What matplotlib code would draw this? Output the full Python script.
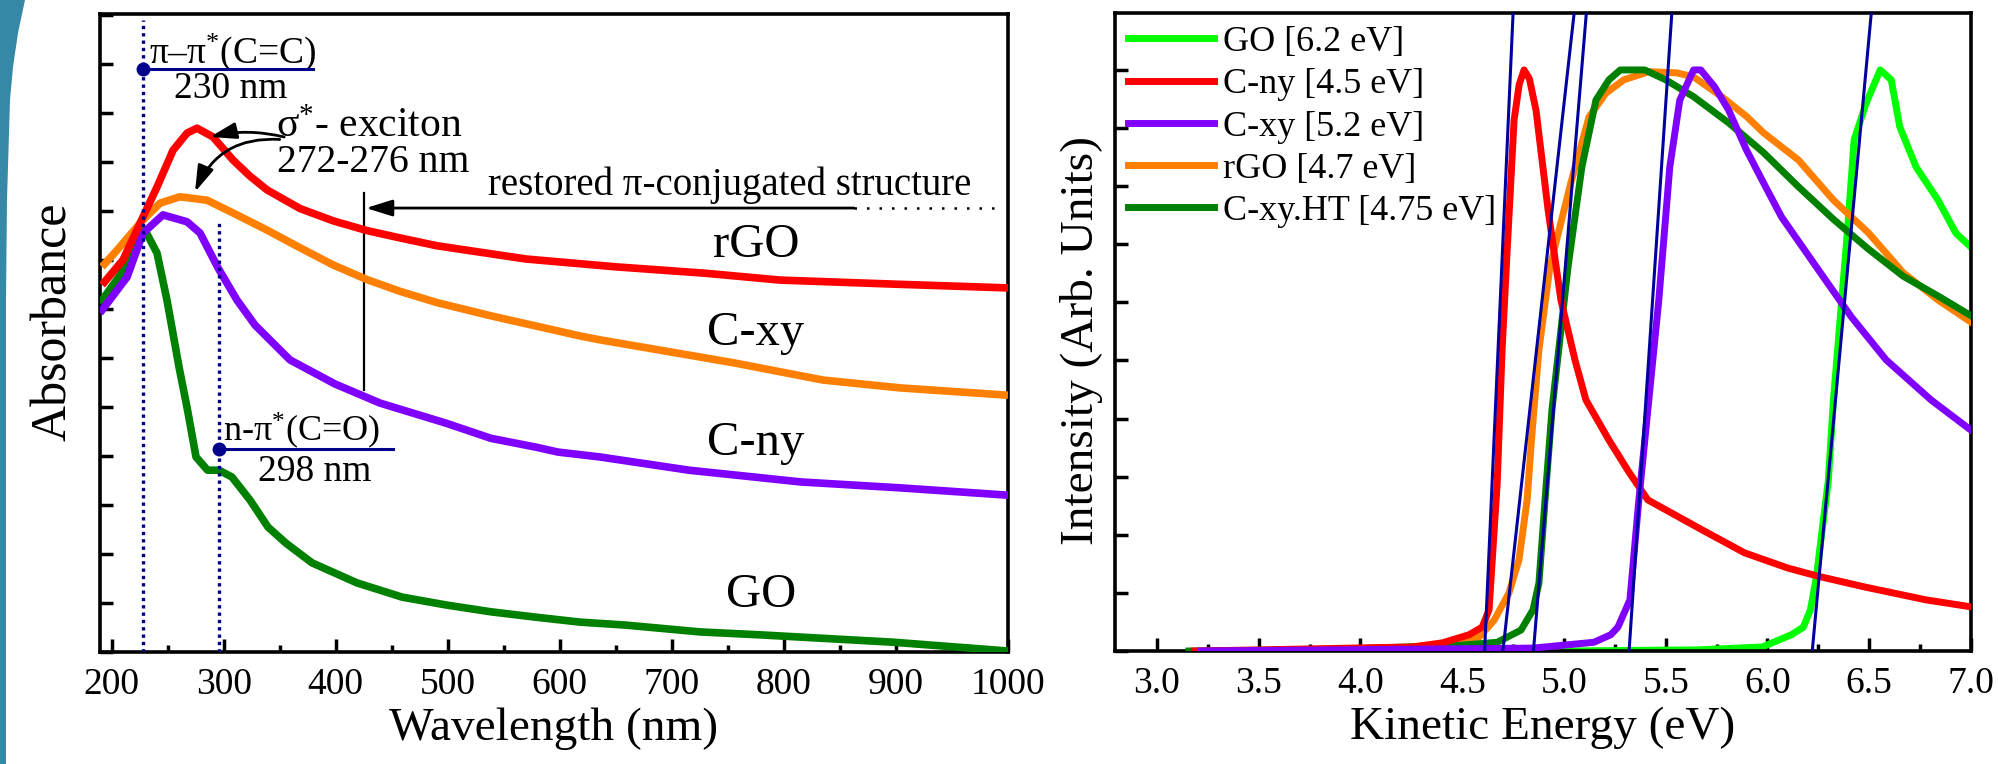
import numpy as np
import matplotlib
matplotlib.use('Agg')
import matplotlib.pyplot as plt
from matplotlib.patches import Polygon
from matplotlib.ticker import MultipleLocator, FormatStrFormatter

plt.rcParams['font.family'] = ['Liberation Serif', 'DejaVu Serif']
plt.rcParams['mathtext.fontset'] = 'custom'
plt.rcParams['mathtext.rm'] = 'Liberation Serif'
plt.rcParams['mathtext.it'] = 'Liberation Serif:italic'
plt.rcParams['mathtext.bf'] = 'Liberation Serif:bold'

# ---------------- Left panel: UV-Vis absorbance ----------------
red_wl = [191.4, 210.1, 228.0, 240.5, 254.8, 267.3, 276.2, 290.5, 308.3, 323.0, 338.7, 368.1,
          397.6, 427.9, 457.4, 490.4, 569.8, 650.2, 729.6, 796.5, 894.7, 1000]
red_abs = [7.49, 8.00, 8.88, 9.49, 10.24, 10.59, 10.69, 10.51, 10.04, 9.72, 9.43, 9.05,
           8.80, 8.60, 8.45, 8.29, 8.02, 7.86, 7.73, 7.59, 7.51, 7.43]

orange_wl = [191.4, 204.8, 228.0, 243.2, 261.0, 285.1, 308.3, 338.7, 368.1, 397.6, 427.9,
             457.4, 490.4, 538.6, 618.0, 635.9, 725.1, 755.5, 834.9, 903.6, 1000]
orange_abs = [7.86, 8.20, 8.82, 9.16, 9.29, 9.22, 8.96, 8.61, 8.25, 7.90, 7.60,
              7.36, 7.13, 6.86, 6.45, 6.37, 6.02, 5.90, 5.55, 5.39, 5.24]

purple_wl = [189.6, 213.7, 228.0, 245.8, 267.3, 278.9, 294.9, 311.9, 328.0, 359.2, 399.3,
             439.5, 498.4, 538.6, 578.8, 598.4, 635.9, 715.3, 815.3, 903.6, 1000]
purple_abs = [6.92, 7.65, 8.55, 8.92, 8.78, 8.55, 7.84, 7.18, 6.67, 5.96, 5.47,
              5.08, 4.67, 4.36, 4.18, 4.08, 3.98, 3.71, 3.47, 3.35, 3.20]

green_wl = [189.6, 207.5, 220.8, 229.8, 240.5, 249.4, 260.1, 267.7, 275.3, 285.6, 295.8,
            307.4, 323.5, 339.5, 355.6, 378.8, 419.0, 459.2, 498.4, 538.6, 578.8, 618.0,
            658.2, 725.1, 778.7, 897.4, 1000]
green_abs = [7.12, 7.69, 8.31, 8.61, 8.14, 7.18, 5.82, 4.94, 3.98, 3.71, 3.71,
             3.57, 3.10, 2.55, 2.22, 1.82, 1.41, 1.12, 0.96, 0.82, 0.71, 0.61,
             0.55, 0.41, 0.35, 0.20, 0.02]

uv_labels = ['rGO', 'C-xy', 'C-ny', 'GO']
uv_label_pos = [(775, 8.31), (775, 6.51), (775, 4.27), (780, 1.16)]

pi_pi_wl = 228
n_pi_wl = 296

# ---------------- Right panel: UPS secondary cutoff ----------------
ups_names = ['GO [6.2 eV]', 'C-ny [4.5 eV]', 'C-xy [5.2 eV]', 'rGO [4.7 eV]', 'C-xy.HT [4.75 eV]']

go_E = [5.0, 5.662, 5.975, 6.118, 6.176, 6.211, 6.240, 6.299, 6.324, 6.392, 6.426, 6.485,
        6.554, 6.608, 6.650, 6.730, 6.838, 6.926, 7.0]
go_I = [0.0, 0.002, 0.007, 0.028, 0.041, 0.071, 0.127, 0.294, 0.432, 0.719, 0.880, 0.943,
        1.0, 0.983, 0.902, 0.833, 0.776, 0.719, 0.695]

cny_E = [3.186, 3.515, 3.961, 4.255, 4.402, 4.534, 4.598, 4.632, 4.672, 4.696, 4.721, 4.755,
         4.780, 4.804, 4.830, 4.863, 4.922, 4.985, 5.054, 5.108, 5.221, 5.319, 5.412, 5.681,
         5.887, 6.098, 6.245, 6.480, 6.779, 7.0]
cny_I = [0.0, 0.002, 0.005, 0.007, 0.014, 0.028, 0.041, 0.071, 0.289, 0.518, 0.690, 0.914,
         0.975, 1.0, 0.985, 0.930, 0.759, 0.604, 0.501, 0.432, 0.363, 0.308, 0.260, 0.208,
         0.169, 0.143, 0.129, 0.110, 0.088, 0.076]

cxy_E = [3.216, 4.848, 5.147, 5.230, 5.265, 5.324, 5.368, 5.417, 5.466, 5.520, 5.569, 5.637,
         5.672, 5.740, 5.809, 5.897, 5.980, 6.069, 6.240, 6.412, 6.583, 6.804, 7.0]
cxy_I = [0.0, 0.005, 0.015, 0.028, 0.041, 0.088, 0.260, 0.432, 0.604, 0.833, 0.948, 1.0,
         1.0, 0.971, 0.931, 0.862, 0.806, 0.747, 0.661, 0.575, 0.501, 0.432, 0.380]

rgo_E = [3.505, 4.191, 4.495, 4.583, 4.657, 4.730, 4.779, 4.819, 4.843, 4.877, 4.931, 5.034,
         5.123, 5.206, 5.294, 5.417, 5.554, 5.637, 5.775, 5.897, 5.980, 6.152, 6.324,
         6.495, 6.667, 6.838, 7.0]
rgo_I = [0.0, 0.005, 0.014, 0.024, 0.053, 0.100, 0.157, 0.260, 0.375, 0.518, 0.661, 0.806,
         0.919, 0.960, 0.983, 0.997, 0.995, 0.988, 0.954, 0.920, 0.892, 0.845, 0.776,
         0.720, 0.651, 0.604, 0.566]

cxyht_E = [3.157, 3.809, 4.495, 4.672, 4.789, 4.848, 4.877, 4.907, 4.941, 4.985, 5.020, 5.088,
           5.157, 5.221, 5.277, 5.397, 5.500, 5.637, 5.809, 5.980, 6.152, 6.324, 6.495,
           6.667, 6.838, 7.0]
cxyht_I = [0.0, 0.002, 0.010, 0.015, 0.036, 0.071, 0.117, 0.260, 0.415, 0.552, 0.661, 0.833,
           0.948, 0.983, 1.0, 1.0, 0.983, 0.954, 0.909, 0.858, 0.799, 0.743, 0.692,
           0.645, 0.611, 0.577]

# tangent (onset) lines: energy at baseline and at the top of the frame
tan_E_bottom = [4.61, 4.70, 4.85, 5.32, 6.22]
tan_E_top = [4.75, 5.05, 5.11, 5.53, 6.51]

# ---------------- Figure ----------------
W, H = 1999, 764
fig = plt.figure(figsize=(W / 100, H / 100), dpi=100)
fig.patch.set_facecolor('white')

def fx(px):
    return px / W

def fy(py):
    return 1 - py / H

# slide decoration on the left edge
teal = [(0, 0), (25, 0), (18, 33), (13, 67), (10, 100), (7, 200), (6, 300), (6, 764), (0, 764)]
fig.patches.append(Polygon([(fx(a), fy(b)) for a, b in teal], closed=True,
                           transform=fig.transFigure, facecolor='#3589A6', edgecolor='none'))

axL = fig.add_axes([fx(100), fy(652), fx(1008) - fx(100), fy(14) - fy(652)])
axR = fig.add_axes([fx(1115), fy(651), fx(1971) - fx(1115), fy(13) - fy(651)])

NAVY = '#00008B'
LW = 5.5

for ax in (axL, axR):
    for s in ax.spines.values():
        s.set_linewidth(2.6)
    ax.tick_params(which='both', direction='in', top=False, right=False, width=2.5,
                   labelsize=27, pad=11)
    ax.tick_params(which='major', length=9.5)
    ax.tick_params(which='minor', length=5)
    ax.tick_params(axis='y', labelleft=False)

# ---- left ----
kw = dict(lw=LW, solid_joinstyle='round', solid_capstyle='butt', zorder=3)
axL.plot(green_wl, green_abs, color='#008000', **kw)
axL.plot(purple_wl, purple_abs, color='#8000FF', **kw)
axL.plot(orange_wl, orange_abs, color='#FF8000', **kw)
axL.plot(red_wl, red_abs, color='#FF0000', **kw)

axL.set_xlim(189.6, 1000)
axL.set_ylim(0, 13.02)
axL.xaxis.set_major_locator(MultipleLocator(100))
axL.xaxis.set_minor_locator(MultipleLocator(50))
axL.yaxis.set_major_locator(MultipleLocator(1))
axL.set_xlabel('Wavelength (nm)', fontsize=34)
axL.set_ylabel('Absorbance', fontsize=36)
axL.xaxis.set_label_coords(0.5, -0.138)
axL.xaxis.label.set_va('baseline')
axL.yaxis.set_label_coords(-0.051, 0.518)
axL.yaxis.label.set_va('center')

# dotted guide lines
axL.plot([pi_pi_wl, pi_pi_wl], [0, 12.9], color=NAVY, lw=2.4, ls=(0, (1, 1.2)), zorder=4)
axL.plot([n_pi_wl, n_pi_wl], [0, 8.76], color=NAVY, lw=2.4, ls=(0, (1, 1.2)), zorder=4)

# pi-pi* marker
axL.plot([pi_pi_wl, 379.7], [11.9, 11.9], color=NAVY, lw=2.2, zorder=5)
axL.plot([pi_pi_wl], [11.9], 'o', color=NAVY, ms=9, zorder=6)
axL.text(233, 12.02, 'π–π$^{*}$(C=C)', fontsize=27, ha='left', va='baseline')
axL.text(306, 11.5, '230 nm', fontsize=27, ha='center', va='center')

# n-pi* marker
axL.plot([n_pi_wl, 451], [4.14, 4.14], color=NAVY, lw=2.2, zorder=5)
axL.plot([n_pi_wl], [4.14], 'o', color=NAVY, ms=9, zorder=6)
axL.text(299.4, 4.30, 'n-π$^{*}$(C=O)', fontsize=26, ha='left', va='baseline')
axL.text(381.5, 3.67, '298 nm', fontsize=27, ha='center', va='center')

# sigma* exciton
axL.text(430, 10.71, 'σ$^{*}$- exciton', fontsize=30, ha='center', va='center')
axL.text(433, 9.98, '272-276 nm', fontsize=28.5, ha='center', va='center')
axL.annotate('', xy=(287.8, 10.51), xytext=(354, 10.51),
             arrowprops=dict(arrowstyle='-|>,head_length=0.8,head_width=0.25',
                             connectionstyle='arc3,rad=0.12', lw=2, color='k',
                             shrinkA=0, shrinkB=0, mutation_scale=20))
axL.annotate('', xy=(274.4, 9.39), xytext=(350, 10.46),
             arrowprops=dict(arrowstyle='-|>,head_length=0.8,head_width=0.25',
                             connectionstyle='arc3,rad=0.35', lw=2, color='k',
                             shrinkA=0, shrinkB=0, mutation_scale=20))

# restored pi-conjugated structure
axL.text(536, 9.33, 'restored π-conjugated structure', fontsize=28, ha='left', va='baseline')
axL.annotate('', xy=(427, 9.06), xytext=(862.6, 9.06),
             arrowprops=dict(arrowstyle='-|>,head_length=0.8,head_width=0.25', lw=2,
                             color='k', shrinkA=0, shrinkB=0, mutation_scale=20))
axL.plot([862.6, 992], [9.06, 9.06], color='k', lw=1.8, ls=(0, (1, 4)))
axL.plot([425.2, 425.2], [5.35, 9.37], color='k', lw=1.6)

for lab, (x, y) in zip(uv_labels, uv_label_pos):
    axL.text(x, y, lab, fontsize=35, ha='center', va='center')

# ---- right ----
kr = dict(lw=5, solid_joinstyle='round')
axR.plot(go_E, go_I, color='#00FF00', label=ups_names[0], zorder=2, **kr)
axR.plot(rgo_E, rgo_I, color='#FF8000', label=ups_names[3], zorder=3, **kr)
axR.plot(cxyht_E, cxyht_I, color='#008000', label=ups_names[4], zorder=4, **kr)
axR.plot(cny_E, cny_I, color='#FF0000', label=ups_names[1], zorder=4.5, **kr)
axR.plot(cxy_E, cxy_I, color='#8000FF', label=ups_names[2], zorder=5, **kr)

ylimR = (0, 1.098)
for eb, et in zip(tan_E_bottom, tan_E_top):
    axR.plot([eb, et], [ylimR[0], ylimR[1]], color='#0000A0', lw=2.2, zorder=6)

axR.set_xlim(2.794, 7.0)
axR.set_ylim(*ylimR)
axR.xaxis.set_major_locator(MultipleLocator(0.5))
axR.xaxis.set_minor_locator(MultipleLocator(0.25))
axR.xaxis.set_major_formatter(FormatStrFormatter('%.1f'))
axR.yaxis.set_major_locator(MultipleLocator(0.1))
axR.set_xlabel('Kinetic Energy (eV)', fontsize=34)
axR.set_ylabel('Intensity (Arb. Units)', fontsize=34)
axR.xaxis.set_label_coords(0.5, -0.138)
axR.xaxis.label.set_va('baseline')
axR.yaxis.set_label_coords(-0.0397, 0.487)
axR.yaxis.label.set_va('center')

h, l = axR.get_legend_handles_labels()
order = [l.index(n) for n in ups_names]
leg = axR.legend([h[i] for i in order], [l[i] for i in order], loc='upper left',
                 bbox_to_anchor=(0, 1), borderaxespad=0, borderpad=0.35, frameon=False,
                 fontsize=26, handlelength=2.4, handletextpad=0.25, labelspacing=0.25)
for line in leg.get_lines():
    line.set_linewidth(5)

fig.savefig('out.png', dpi=100, facecolor='white')
